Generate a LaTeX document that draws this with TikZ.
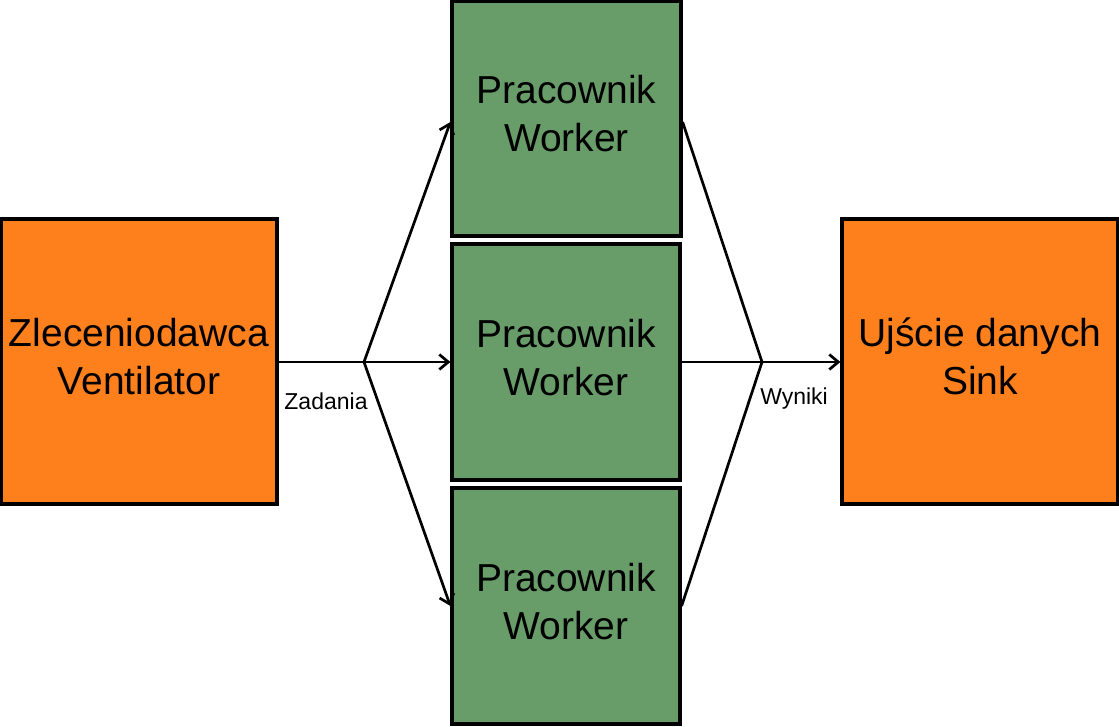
\documentclass[tikz,border=0pt]{standalone}
\usepackage{fontspec}
\setmainfont{Liberation Sans}
\usetikzlibrary{arrows.meta}
\definecolor{orangebox}{RGB}{253,128,28}
\definecolor{greenbox}{RGB}{104,157,106}
\begin{document}
\begin{tikzpicture}[x=1pt,y=1pt,
  endbox/.style={draw=black,line width=3.2pt,fill=orangebox,inner sep=0pt,
    minimum width=276pt,minimum height=285pt,align=center,text depth=10pt,
    font=\fontsize{39}{48}\selectfont},
  workerbox/.style={draw=black,line width=3.2pt,fill=greenbox,inner sep=0pt,
    minimum width=228pt,minimum height=235pt,align=center,text depth=10pt,
    font=\fontsize{39}{48}\selectfont},
  conn/.style={line width=2.7pt,draw=black},
  arr/.style={conn,-{Straight Barb[length=9pt,width=15pt,line width=2.7pt]}},
  lbl/.style={font=\fontsize{23}{27}\selectfont,inner sep=0pt}]
\useasboundingbox (0,0) rectangle (1119,726);
\node[endbox] (V) at (139,364.5) {Zleceniodawca\\Ventilator};
\node[endbox] (S) at (980,364.5) {Ujście danych\\Sink};
\node[workerbox,minimum width=229pt] (W1) at (566.5,607.5) {Pracownik\\Worker};
\node[workerbox,minimum height=236pt] (W2) at (566,364) {Pracownik\\Worker};
\node[workerbox,minimum height=236pt] (W3) at (566,120) {Pracownik\\Worker};
\coordinate (FL) at (364,364);
\coordinate (FR) at (762,364);
\draw[conn] (V.east |- FL) -- (FL);
\draw[arr] (FL) -- (W1.west |- 0,604);
\draw[arr] (FL) -- (W2.west);
\draw[arr] (FL) -- (W3.west |- 0,120);
\draw[conn] (W1.east |- 0,604) -- (FR);
\draw[conn] (W2.east) -- (FR);
\draw[conn] (W3.east |- 0,120) -- (FR);
\draw[arr] (FR) -- (S.west |- FR);
\node[lbl] (Z) at (326,325) {Zadania};
\node[lbl] (Wy) at (794,327) {Wyniki};
\end{tikzpicture}
\end{document}
